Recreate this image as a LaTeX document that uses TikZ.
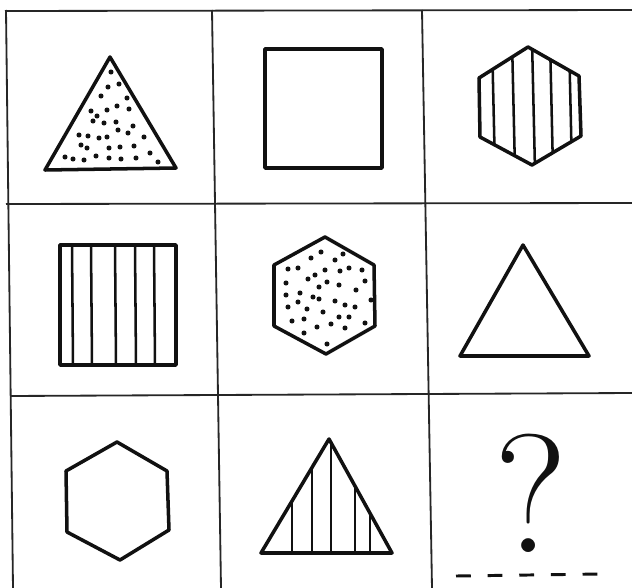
\documentclass[tikz,border=0pt]{standalone}
\usepackage{xcolor}
\usepackage{tikz}
\usetikzlibrary{positioning}
\definecolor{ink}  {HTML}{111111}
\definecolor{rule} {HTML}{262626}
\newcommand{\qsize}{\fontsize{240}{250}\selectfont}

\begin{document}
\begin{tikzpicture}[x=0.05cm, y=-0.05cm,
    gridline/.style={rule, line width=2.6pt},
    outline/.style={ink, line width=5pt, line join=round},
    stripe/.style={ink, line width=3.6pt},
    speck/.style={ink}]
  \useasboundingbox[fill=white] (0,0) rectangle (632,588);
  \draw[gridline] (5,11) -- (632,10);
  \draw[gridline] (6,204) -- (632,203);
  \draw[gridline] (10,396) -- (632,393);
  \draw[gridline] (6,10) -- (13,588);
  \draw[gridline] (212,10) -- (221,588);
  \draw[gridline] (422,10) -- (432,588);
  \begin{scope}
    \draw[outline] (110,57) -- (176,168) -- (45,170) -- cycle;
    \foreach \px/\py in {111/72,108/87,119/84,101/96,127/98,91/111,107/110,117/106,
        129/109,97/116,93/121,104/123,116/122,133/126,118/130,128/133,79/135,88/136,
        99/138,107/137,144/137,81/145,87/148,109/148,120/147,134/146,65/157,73/159,
        84/160,96/156,109/158,121/159,136/158,150/153,158/162}
      \fill[speck] (\px,\py) circle (3.6pt);
  \end{scope}
  \begin{scope}
    \draw[outline] (265,49) rectangle (382,168);
  \end{scope}
  \begin{scope}
    \begin{scope}
      \clip (528,47) -- (579,76) -- (581,136) -- (532,165) -- (480,137) -- (479,78) -- cycle;
      \foreach \sx in {492,512,532,550,569}
        \draw[stripe] (\sx,40) -- (\sx+3,170);
    \end{scope}
    \draw[outline] (528,47) -- (579,76) -- (581,136) -- (532,165) -- (480,137) -- (479,78) -- cycle;
  \end{scope}
  \begin{scope}
    \foreach \sx in {72,91,115,135,154}
      \draw[stripe] (\sx,245) -- (\sx+1,365);
    \draw[outline] (60,245) rectangle (176,365);
  \end{scope}
  \begin{scope}
    \draw[outline] (325,237) -- (374,265) -- (375,326) -- (326,354) -- (274,326) -- (274,265) -- cycle;
    \foreach \px/\py in {321/252,343/254,311/258,335/260,288/269,298/268,325/270,340/271,
        349/268,362/270,315/275,308/279,327/282,339/285,286/283,319/287,365/281,356/290,
        286/295,300/293,313/297,319/299,298/302,335/301,371/300,288/307,307/309,345/305,
        355/307,323/312,292/321,304/319,339/317,349/317,365/323,317/327,331/324,345/328,
        304/333,327/344}
      \fill[speck] (\px,\py) circle (3.6pt);
  \end{scope}
  \begin{scope}
    \draw[outline] (523,245) -- (589,356) -- (460,356) -- cycle;
  \end{scope}
  \begin{scope}
    \draw[outline] (117,442) -- (167,471) -- (169,530) -- (120,560) -- (67,532) -- (66,471) -- cycle;
  \end{scope}
  \begin{scope}
    \begin{scope}
      \clip (329,439) -- (392,553) -- (261,553) -- cycle;
      \foreach \sx in {292,312,331,355,370}
        \draw[stripe] (\sx,430) -- (\sx,560);
    \end{scope}
    \draw[outline] (329,439) -- (392,553) -- (261,553) -- cycle;
  \end{scope}
  \begin{scope}
    \node[ink, anchor=base, inner sep=0pt] (qmark) at (531,552) {\qsize ?};
    \draw[ink, line width=4.2pt, dash pattern=on 21pt off 24pt] (456,576) -- (601,574);
  \end{scope}
\end{tikzpicture}
\end{document}
